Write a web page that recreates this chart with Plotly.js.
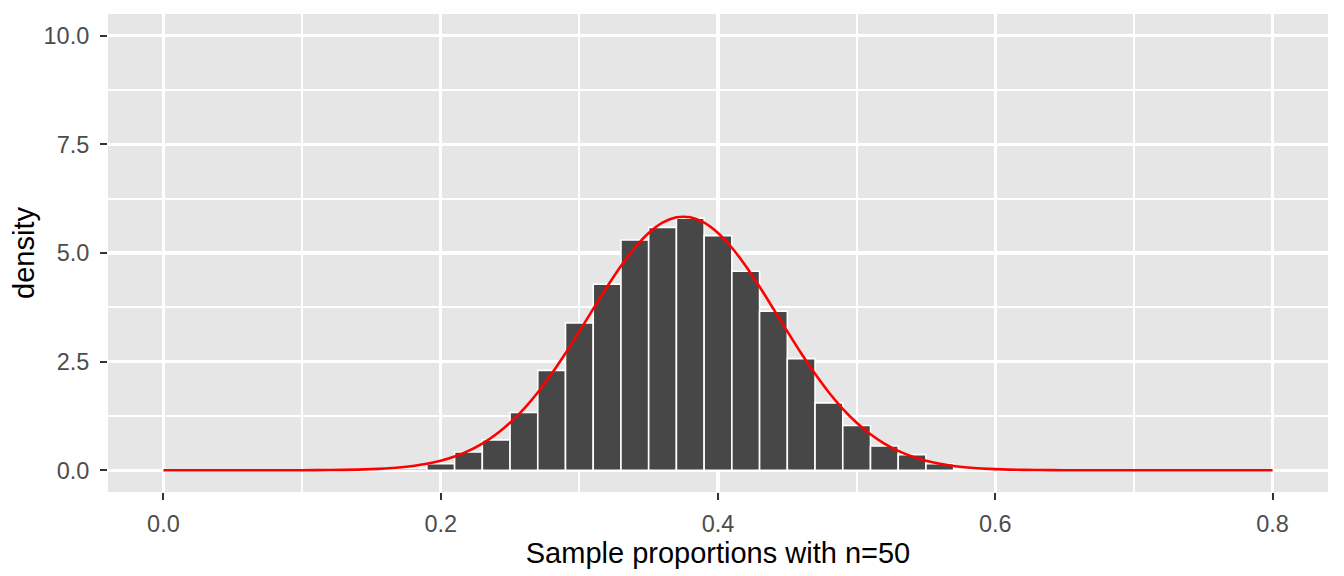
<!DOCTYPE html>
<html>
<head>
<meta charset="utf-8">
<script src="https://cdn.plot.ly/plotly-3.0.1.min.js"></script>
<style>
html,body{margin:0;padding:0;background:#fff;}
#chart{width:1344px;height:576px;}
</style>
</head>
<body>
<div id="chart"></div>
<script>
// Histogram of sample proportions (bin centers, width 0.02) – density heights
const binCenters = [0.18,0.20,0.22,0.24,0.26,0.28,0.30,0.32,0.34,0.36,0.38,0.40,0.42,0.44,0.46,0.48,0.50,0.52,0.54,0.56];
const binDensity = [0.04,0.15,0.42,0.70,1.33,2.30,3.39,4.28,5.30,5.59,5.80,5.40,4.58,3.66,2.57,1.55,1.03,0.56,0.36,0.15];

// Red density curve
const curveX = [0,0.05,0.10,0.12,0.14,0.15,0.16,0.17,0.18,0.19,0.20,0.21,0.22,0.23,0.24,0.25,0.26,0.27,0.28,0.29,0.30,0.31,0.32,0.33,0.34,0.35,0.36,0.37,0.38,0.39,0.40,0.41,0.42,0.43,0.44,0.45,0.46,0.47,0.48,0.49,0.50,0.51,0.52,0.53,0.54,0.55,0.56,0.57,0.58,0.59,0.60,0.61,0.63,0.65,0.70,0.80];
const curveY = [0,0.0001,0.0018,0.0055,0.0157,0.0257,0.041,0.0646,0.099,0.149,0.219,0.316,0.445,0.613,0.828,1.094,1.415,1.791,2.220,2.692,3.196,3.713,4.223,4.701,5.121,5.462,5.701,5.824,5.824,5.701,5.462,5.121,4.701,4.223,3.713,3.196,2.692,2.220,1.791,1.415,1.094,0.828,0.613,0.445,0.316,0.219,0.149,0.099,0.0646,0.041,0.0257,0.0157,0.0055,0.0018,0.0001,0];

const xTicks = [0,0.2,0.4,0.6,0.8];
const xTickText = ["0.0","0.2","0.4","0.6","0.8"];
const yTicks = [0,2.5,5,7.5,10];
const yTickText = ["0.0","2.5","5.0","7.5","10.0"];

const traces = [
  {
    type:'bar', x:binCenters, y:binDensity, width:0.02,
    marker:{color:'#474747', line:{color:'#ffffff', width:1.6}},
    hoverinfo:'x+y', showlegend:false
  },
  {
    type:'scatter', mode:'lines', x:curveX, y:curveY,
    line:{color:'#ff0000', width:2.6, shape:'spline', smoothing:0.6},
    showlegend:false
  }
];

const tickFont = {family:'Liberation Sans, Arial, sans-serif', size:23.5, color:'#4d4d4d'};
const titleFont = {family:'Liberation Sans, Arial, sans-serif', size:29, color:'#000000'};

const layout = {
  width:1344, height:576,
  margin:{l:108, r:16, t:14, b:84},
  paper_bgcolor:'#ffffff', plot_bgcolor:'#e6e6e6',
  bargap:0,
  xaxis:{
    range:[-0.04,0.84], tickvals:xTicks, ticktext:xTickText,
    showgrid:true, gridcolor:'#ffffff', gridwidth:3.4, zeroline:false,
    ticks:'outside', ticklen:7, tickwidth:2, tickcolor:'#333333',
    tickfont:tickFont, ticklabelstandoff:4,
    minor:{tickvals:[0.1,0.3,0.5,0.7], showgrid:true, gridcolor:'#ffffff', gridwidth:1.8, ticks:''},
    title:{text:'Sample proportions with n=50', font:titleFont, standoff:2},
    showline:false, automargin:false
  },
  yaxis:{
    range:[-0.5,10.5], tickvals:yTicks, ticktext:yTickText,
    showgrid:true, gridcolor:'#ffffff', gridwidth:3.4, zeroline:false,
    ticks:'outside', ticklen:7, tickwidth:2, tickcolor:'#333333',
    tickfont:tickFont, ticklabelstandoff:6,
    minor:{tickvals:[1.25,3.75,6.25,8.75], showgrid:true, gridcolor:'#ffffff', gridwidth:1.8, ticks:''},
    title:{text:'density', font:titleFont, standoff:0},
    showline:false, automargin:false
  }
};

Plotly.newPlot('chart', traces, layout, {displayModeBar:false, staticPlot:true});
</script>
</body>
</html>
